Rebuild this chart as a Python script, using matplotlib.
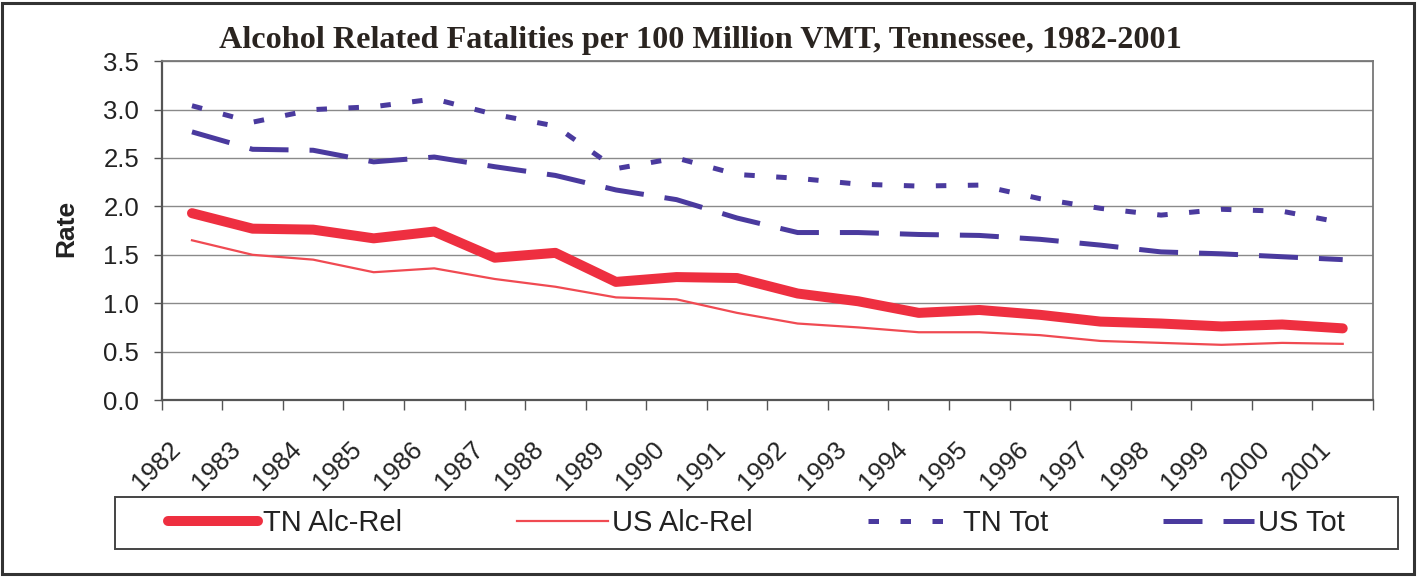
import numpy as np
import matplotlib
matplotlib.use("Agg")
import matplotlib.pyplot as plt
from matplotlib.patches import Rectangle
from matplotlib.transforms import ScaledTranslation

plt.rcParams['font.family'] = ['Liberation Sans', 'DejaVu Sans']

years = ['1982', '1983', '1984', '1985', '1986', '1987', '1988', '1989', '1990', '1991',
         '1992', '1993', '1994', '1995', '1996', '1997', '1998', '1999', '2000', '2001']
tn_alc = [1.93, 1.77, 1.76, 1.67, 1.74, 1.47, 1.52, 1.22, 1.27, 1.26,
          1.10, 1.02, 0.90, 0.93, 0.88, 0.81, 0.79, 0.76, 0.78, 0.74]
us_alc = [1.65, 1.50, 1.45, 1.32, 1.36, 1.25, 1.17, 1.06, 1.04, 0.90,
          0.79, 0.75, 0.70, 0.70, 0.67, 0.61, 0.59, 0.57, 0.59, 0.58]
tn_tot = [3.04, 2.87, 3.00, 3.03, 3.11, 2.95, 2.83, 2.39, 2.50, 2.33,
          2.29, 2.23, 2.21, 2.22, 2.08, 1.98, 1.91, 1.97, 1.95, 1.83]
us_tot = [2.77, 2.59, 2.58, 2.46, 2.51, 2.41, 2.32, 2.17, 2.07, 1.88,
          1.73, 1.73, 1.71, 1.70, 1.66, 1.60, 1.53, 1.51, 1.48, 1.45]
yticks = [0.0, 0.5, 1.0, 1.5, 2.0, 2.5, 3.0, 3.5]
title = "Alcohol Related Fatalities per 100 Million VMT, Tennessee, 1982-2001"

W, H = 1421, 578
fig = plt.figure(figsize=(W / 100, H / 100), dpi=100)
fig.patch.set_facecolor('white')

def fx(px):
    return px / W

def fy(py):
    return 1 - py / H

left, right, top, bottom = 161.7, 1373, 61.2, 400
ax = fig.add_axes([fx(left), fy(bottom), (right - left) / W, (bottom - top) / H])

RED = '#ee2f40'
RED2 = '#f04a52'
BLUE = '#4a3a9e'
TXT = '#222222'

x = np.arange(len(years)) + 0.5
l1, = ax.plot(x, tn_alc, color=RED, lw=7.2, solid_joinstyle='round', solid_capstyle='round',
              label='TN Alc-Rel', zorder=4)
l2, = ax.plot(x, us_alc, color=RED2, lw=1.6, label='US Alc-Rel', zorder=4)
l3, = ax.plot(x, tn_tot, color=BLUE, lw=3.6, dashes=(2.1, 4.3), label='TN Tot', zorder=4)
l4, = ax.plot(x, us_tot, color=BLUE, lw=3.6, dashes=(7.8, 4.2), label='US Tot', zorder=4)

ax.set_xlim(0, len(years))
ax.set_ylim(0, 3.5)
ax.set_yticks(yticks)
ax.set_yticklabels([f"{v:.1f}" for v in yticks], fontsize=18.5, color=TXT)
ax.yaxis.grid(True, color='#8a8a8a', lw=1.0, zorder=1)
ax.set_axisbelow(True)

ax.set_xticks(np.arange(len(years) + 1))
ax.set_xticklabels([])
ax.set_xticks(x, minor=True)
ax.set_xticklabels(years, minor=True, rotation=45, ha='right', va='top', fontsize=18.5, color=TXT)
ax.tick_params(axis='x', which='major', length=7.2, width=1.0, color='#555555', direction='out')
ax.tick_params(axis='x', which='minor', length=0, pad=26.5)
ax.tick_params(axis='y', which='major', length=5.8, width=1.0, color='#555555', direction='out', pad=10.5)
off = ScaledTranslation(-7 / 100, 0, fig.dpi_scale_trans)
for lbl in ax.get_xticklabels(minor=True):
    lbl.set_transform(lbl.get_transform() + off)

for s in ['left', 'bottom']:
    ax.spines[s].set_color('#555555')
    ax.spines[s].set_linewidth(1.6)
for s in ['top', 'right']:
    ax.spines[s].set_color('#777777')
    ax.spines[s].set_linewidth(1.3)

fig.text(fx(700), fy(48), title, ha='center', va='baseline', fontsize=23.2,
         fontweight='bold', family=['Liberation Serif', 'DejaVu Serif'], color='#2a2420')
fig.text(fx(66), fy(228), 'Rate', rotation=90, ha='center', va='center', fontsize=19,
         fontweight='bold', color=TXT)

# legend
fig.patches.append(Rectangle((fx(115), fy(549)), (1398 - 115) / W, 52 / H, transform=fig.transFigure,
                             fill=False, edgecolor='#444444', lw=1.4, zorder=5))
leg = fig.legend(handles=[l1, l2, l3, l4], loc='center', ncol=4, mode='expand',
                 bbox_to_anchor=(fx(168), fy(549), (1345 - 168) / W, 52 / H),
                 frameon=False, fontsize=21, handlelength=3.1, handletextpad=0.15,
                 borderaxespad=0, borderpad=0)
for t in leg.get_texts():
    t.set_color(TXT)

# outer frame
fig.patches.append(Rectangle((fx(2), fy(574)), (1414 - 2) / W, (574 - 3) / H, transform=fig.transFigure,
                             fill=False, edgecolor='#333333', lw=2.2, zorder=5))

fig.savefig('out.png', dpi=100)
